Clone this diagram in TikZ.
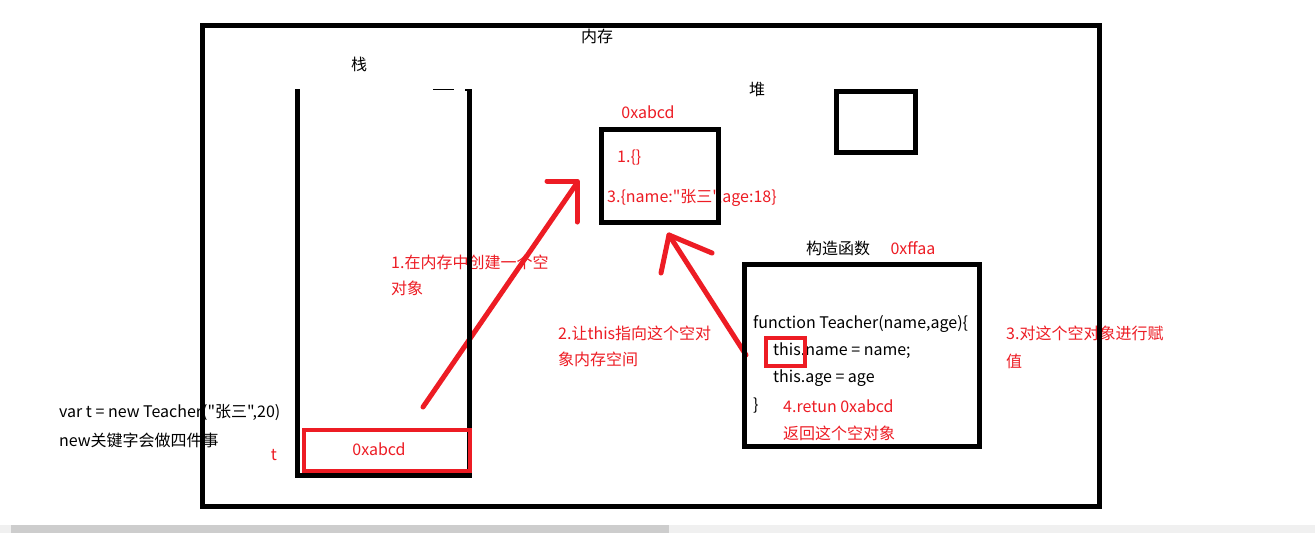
\documentclass[tikz,border=0pt]{standalone}
\usepackage{fontspec}
\setmainfont[Ligatures=TeXOff]{Noto Sans CJK SC}
\definecolor{pred}{HTML}{ED1C24}
\definecolor{sbdark}{HTML}{CDCDCD}
\definecolor{sblight}{HTML}{F0F0F0}
\newcommand{\bfz}{\fontsize{16}{16}\selectfont}
\newcommand{\rfz}{\fontsize{16}{16}\selectfont}
\tikzset{
  blk/.style={draw=black, line width=5pt, inner sep=0pt},
  redrect/.style={draw=pred, line width=4pt, inner sep=0pt},
  redarrow/.style={draw=pred, line width=5pt, line cap=round, line join=round},
  blbl/.style={font=\bfz, text=black, inner sep=0pt},
  rlbl/.style={font=\rfz, text=pred, inner sep=0pt},
}
\begin{document}
\begin{tikzpicture}[x=1pt, y=-1pt]
\useasboundingbox (0,0) rectangle (1315,533);
\fill[white] (0,0) rectangle (1315,533);
% scrollbar
\fill[sblight] (0,525) rectangle (1315,533);
\fill[sbdark] (11,525) rectangle (669,533);

% texts
\node[blbl] (mem) at (597,36) {内存};
\node[blbl] (stacklbl) at (359,64) {栈};
\node[blbl] (heaplbl) at (757,89) {堆};
\node[rlbl] (objaddr) at (648,112) {0xabcd};
\node[rlbl, anchor=west] (obj1) at (617,158) {1.\{\}};
\node[rlbl, anchor=west] (obj3) at (607,198) {3.\{name:"张三",age:18\}};
\node[blbl] (ctor) at (838,248) {构造函数};
\node[rlbl] (ctoraddr) at (913,248) {0xffaa};
\node[rlbl, anchor=west] (s1a) at (391,262) {1.在内存中创建一个空};
\node[rlbl, anchor=west] (s1b) at (391,288) {对象};
\node[rlbl, anchor=west] (s2a) at (558,333) {2.让this指向这个空对};
\node[rlbl, anchor=west] (s2b) at (558,359) {象内存空间};
\node[rlbl, anchor=west] (s3a) at (1006,333) {3.对这个空对象进行赋};
\node[rlbl, anchor=west] (s3b) at (1006,361) {值};
\node[blbl, anchor=west] (fn1) at (753,324) {function Teacher(name,age)\{};
\node[blbl, anchor=west] (fn2) at (773,351) {this.name = name;};
\node[blbl, anchor=west] (fn3) at (773,378) {this.age = age};
\node[blbl, anchor=west] (fn4) at (753,406) {\}};
\node[rlbl, anchor=west] (ret1) at (783,406) {4.retun 0xabcd};
\node[rlbl, anchor=west] (ret2) at (783,433) {返回这个空对象};
\node[blbl, anchor=west] (code1) at (59,413) {var t = new Teacher("张三",20)};
\node[blbl, anchor=west] (code2) at (59,440) {new关键字会做四件事};
\node[rlbl] (tlbl) at (274,455) {t};
\node[rlbl] (saddr) at (379,449) {0xabcd};

% red arrows
\coordinate (a1s) at (423,407);
\coordinate (a1e) at (577,183);
\coordinate (a1h) at (547,181);
\coordinate (a1v) at (577,222);
\draw[redarrow] (a1s) -- (a1e);
\draw[redarrow] (a1h) -- (577,181) -- (a1v);
\coordinate (a2s) at (746,355);
\coordinate (a2e) at (669,235);
\coordinate (a2h) at (712,253);
\coordinate (a2v) at (661,273);
\draw[redarrow] (a2s) -- (a2e);
\draw[redarrow] (a2h) -- (a2e) -- (a2v);

% black boxes
\draw[line width=5pt] (202.5,25.5) rectangle (1099.5,506.5);
\draw[line width=5pt, line join=miter] (297.5,89) -- (297.5,475.5) -- (469,475.5) -- (469,89);
\draw[line width=2pt] (465,90) -- (469,90);
\draw[line width=1.3pt] (433,89.7) -- (454,89.7);
\node[blk, minimum width=117pt, minimum height=93pt] (heapobj) at (660,176) {};
\node[blk, minimum width=79pt, minimum height=60.5pt] (smallbox) at (876,121.75) {};
\node[blk, minimum width=234.4pt, minimum height=182.6pt] (fnbox) at (862,355.5) {};

% red rects
\node[redrect, minimum width=165.5pt, minimum height=41pt] (sbox) at (386.75,450) {};
\node[redrect, minimum width=39pt, minimum height=28pt] (thisbox) at (785,352) {};
\end{tikzpicture}
\end{document}
